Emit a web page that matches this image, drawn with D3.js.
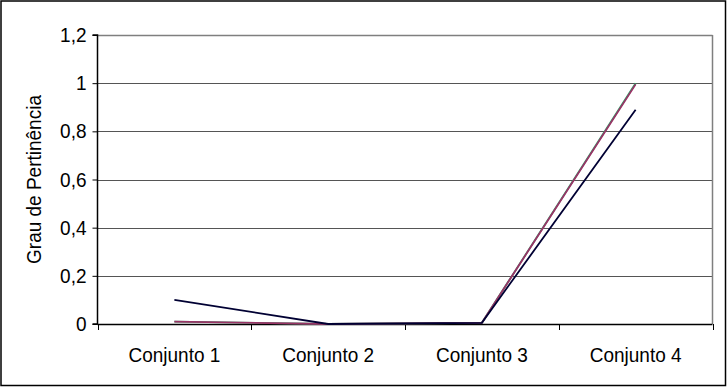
<!DOCTYPE html>
<html>
<head>
<meta charset="utf-8">
<script src="https://cdn.jsdelivr.net/npm/d3@7"></script>
<style>
  html, body { margin: 0; padding: 0; background: #fff; }
  svg { display: block; font-family: "Liberation Sans", Arial, sans-serif; }
</style>
</head>
<body>
<svg id="chart" width="727" height="387"></svg>
<script>
// Membership degree per fuzzy set
const categories = ["Conjunto 1", "Conjunto 2", "Conjunto 3", "Conjunto 4"];
const seriesGreen = [0.01, 0, 0.005, 1];
const seriesMaroon = [0.01, 0, 0.005, 0.995];
const seriesNavy = [0.1, 0, 0.005, 0.89];
const yTicks = [0, 0.2, 0.4, 0.6, 0.8, 1, 1.2];
const yTickLabels = ["0", "0,2", "0,4", "0,6", "0,8", "1", "1,2"];
const yTitle = "Grau de Pertinência";

const series = [
  { values: seriesGreen, color: "#339966" },
  { values: seriesMaroon, color: "#993366" },
  { values: seriesNavy, color: "#000033" }
];

const FONT = "19px";
const STRETCH = 1.08; // glyphs are slightly taller than wide

const svg = d3.select("#chart");
const W = 727, H = 387;
const plot = { left: 97.5, right: 712.5, top: 35, bottom: 324 };

// outer frame
svg.append("rect")
  .attr("x", 1).attr("y", 1).attr("width", W - 2.5).attr("height", H - 2.5)
  .attr("fill", "#fff").attr("stroke", "#000").attr("stroke-width", 1.5);

const x = d3.scaleBand().domain(categories).range([plot.left, plot.right]).padding(0);
const y = d3.scaleLinear().domain([0, 1.2]).range([plot.bottom, plot.top]);

// horizontal gridlines
svg.append("g").selectAll("line")
  .data(yTicks.filter(t => t > 0))
  .join("line")
  .attr("x1", plot.left).attr("x2", plot.right)
  .attr("y1", d => Math.round(y(d)) + 0.5).attr("y2", d => Math.round(y(d)) + 0.5)
  .attr("stroke", d => d === 1.2 ? "#7f7f7f" : "#555")
  .attr("stroke-width", d => d === 1.2 ? 1.5 : 1);

// right plot border
svg.append("line")
  .attr("x1", plot.right).attr("x2", plot.right)
  .attr("y1", plot.top).attr("y2", plot.bottom)
  .attr("stroke", "#7f7f7f").attr("stroke-width", 1.5);

// y axis
const yAxis = d3.axisLeft(y)
  .tickValues(yTicks)
  .tickFormat((d, i) => yTickLabels[i])
  .tickSize(5)
  .tickPadding(6);
const gy = svg.append("g")
  .attr("transform", `translate(${plot.left},0)`)
  .call(yAxis);
gy.select(".domain").attr("stroke", "#000").attr("stroke-width", 1.5).attr("d", `M-5,${plot.top}H0V${plot.bottom}H-5`);
gy.selectAll(".tick line").attr("stroke", "#000");
gy.selectAll(".tick text")
  .attr("fill", "#000")
  .attr("transform", `scale(1,${STRETCH})`)
  .style("font-size", FONT)
  .style("font-family", "'Liberation Sans', Arial, sans-serif");

// x axis: ticks on category boundaries
const xAxisG = svg.append("g");
xAxisG.append("line")
  .attr("x1", plot.left).attr("x2", plot.right)
  .attr("y1", plot.bottom + 0.5).attr("y2", plot.bottom + 0.5)
  .attr("stroke", "#000").attr("stroke-width", 1.5);
const boundaries = categories.map(c => x(c)).concat([x(categories[categories.length - 1]) + x.bandwidth()]);
xAxisG.selectAll("line.tk")
  .data(boundaries)
  .join("line")
  .attr("class", "tk")
  .attr("x1", d => Math.round(d) + 0.5).attr("x2", d => Math.round(d) + 0.5)
  .attr("y1", plot.bottom).attr("y2", plot.bottom + 6)
  .attr("stroke", "#000");
xAxisG.selectAll("text")
  .data(categories)
  .join("text")
  .attr("transform", d => `translate(${x(d) + x.bandwidth() / 2},362) scale(1,${STRETCH})`)
  .attr("text-anchor", "middle")
  .attr("fill", "#000")
  .style("font-size", FONT)
  .text(d => d);

// y title
svg.append("text")
  .attr("transform", `translate(41,${(plot.top + plot.bottom) / 2}) rotate(-90) scale(1,${STRETCH})`)
  .attr("text-anchor", "middle")
  .attr("fill", "#000")
  .style("font-size", FONT)
  .text(yTitle);

// lines
const line = d3.line()
  .x((d, i) => x(categories[i]) + x.bandwidth() / 2)
  .y(d => y(d));

svg.append("g").selectAll("path")
  .data(series)
  .join("path")
  .attr("d", s => line(s.values))
  .attr("fill", "none")
  .attr("stroke", s => s.color)
  .attr("stroke-width", 1.8);
</script>
</body>
</html>
